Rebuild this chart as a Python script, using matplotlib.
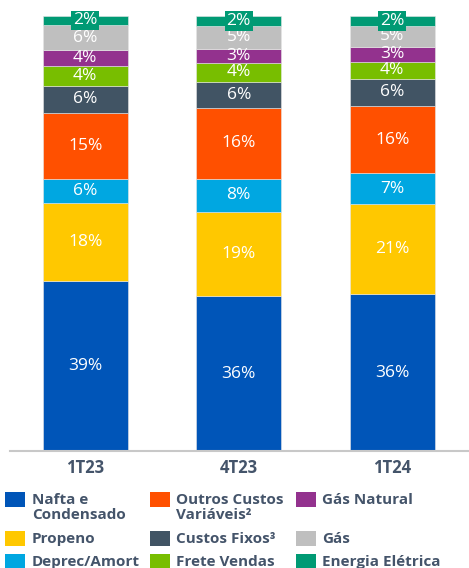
import matplotlib
matplotlib.use("Agg")
import matplotlib.pyplot as plt
from matplotlib.patches import Rectangle

categories = ["1T23", "4T23", "1T24"]
series_names = ["Nafta e\nCondensado", "Propeno", "Deprec/Amort",
                "Outros Custos\nVariáveis²", "Custos Fixos³", "Frete Vendas",
                "Gás Natural", "Gás", "Energia Elétrica"]
nafta = [39.0, 35.6, 36.0]
propeno = [18.0, 19.4, 20.7]
deprec = [5.6, 7.6, 7.1]
outros = [15.2, 16.3, 15.6]
custos_fixos = [6.2, 6.0, 6.2]
frete = [4.4, 4.4, 3.9]
gas_natural = [3.7, 3.2, 3.4]
gas = [5.9, 5.3, 4.8]
energia = [2.0, 2.2, 2.3]
series = [nafta, propeno, deprec, outros, custos_fixos, frete, gas_natural, gas, energia]
colors = ["#0055B8", "#FFC800", "#00A7E1", "#FF5000", "#415464",
          "#78BE00", "#93328E", "#BFBFBF", "#009A74"]

W, H = 469, 568
fig = plt.figure(figsize=(W / 100, H / 100), dpi=100)

def fx(x):
    return x / W

def fy(y):
    return 1 - y / H

ax = fig.add_axes([fx(10), fy(451), (W - 10) / W, 435 / H])
ax.set_xlim(-0.49, 2.5)
ax.set_ylim(0, 100)
for s in ax.spines.values():
    s.set_visible(False)
ax.axhline(0, color="#C8C8C8", lw=1.5, zorder=5, clip_on=False)
ax.set_yticks([])
x = list(range(len(categories)))
ax.set_xticks(x)
ax.set_xticklabels(categories, fontfamily="Open Sans", fontweight="bold",
                   fontsize=12, color="#44546A")
ax.tick_params(axis="x", length=0, pad=6)

bottom = [0.0] * len(categories)
for i, (vals, c) in enumerate(zip(series, colors)):
    ax.bar(x, vals, width=0.555, bottom=bottom, color=c,
           edgecolor="#E6E6E6", linewidth=0.4, zorder=2)
    for j, v in enumerate(vals):
        yc = bottom[j] + v / 2
        kw = {}
        if i == len(series) - 1:
            kw["bbox"] = dict(boxstyle="square,pad=0.1", fc=c, ec="none")
        ax.text(x[j], yc, f"{round(v)}%", ha="center", va="center",
                color="white", fontsize=12.5, fontfamily="Open Sans",
                zorder=6, clip_on=False, **kw)
    bottom = [b + v for b, v in zip(bottom, vals)]

# legend (column-major order as in the reference)
col_sq = [5, 150, 296]
col_tx = [32, 176, 322]
row_top = [492, 531, 554]
for k, (name, c) in enumerate(zip(series_names, colors)):
    col, row = k // 3, k % 3
    fig.patches.append(Rectangle((fx(col_sq[col]), fy(row_top[row] + 15)),
                                 20 / W, 15 / H, transform=fig.transFigure,
                                 fc=c, ec="none"))
    fig.text(fx(col_tx[col]), fy(row_top[row] + 1), name, ha="left", va="top",
             fontfamily="Open Sans", fontweight="bold", fontsize=11,
             color="#44546A", linespacing=1.08)

fig.savefig("out.png", dpi=100)
